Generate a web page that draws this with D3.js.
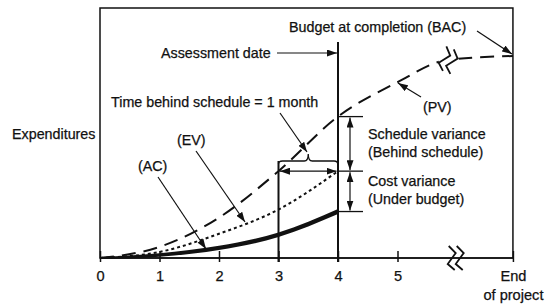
<!DOCTYPE html>
<html>
<head>
<meta charset="utf-8">
<script src="https://cdn.jsdelivr.net/npm/d3@7"></script>
<style>
  body { margin: 0; background: #fff; }
  text { font-family: "Liberation Sans", Arial, sans-serif; font-size: 14.3px; fill: #111; stroke: #111; stroke-width: 0.25px; }
</style>
</head>
<body>
<div id="chart"></div>
<script>
const width = 551
const height = 305

// time axis (months), "End of project" sits after the axis break
const tickValues = [0, 1, 2, 3, 4, 5, 6.94]
const tickLabels = ["0", "1", "2", "3", "4", "5", "End|of project"]

// planned value (PV) up to the budget at completion
const pvMonths = [0, 1, 2, 3, 4, 5, 5.83, 6.94]
const pvValues = [0, 5.5, 20, 43, 70, 87, 98, 100]

// earned value (EV) and actual cost (AC) up to the assessment date
const actMonths = [0, 1, 2, 3, 4]
const evValues = [0, 3, 12, 24, 43]
const acValues = [0, 1.5, 5, 11.5, 23]

const assessMonth = 4
const scheduleMonth = 3
const breakMonth = 5.97
const pvBreakMonth = 5.83

const svg = d3.select("#chart").append("svg")
    .attr("width", width)
    .attr("height", height)

const x = d3.scaleLinear().domain([0, 5]).range([100, 397.5])
const y = d3.scaleLinear().domain([0, 100]).range([258, 56])

const defs = svg.append("defs")
defs.append("marker")
    .attr("id", "arr")
    .attr("markerUnits", "userSpaceOnUse")
    .attr("markerWidth", 10).attr("markerHeight", 7)
    .attr("refX", 10).attr("refY", 3.5)
    .attr("orient", "auto-start-reverse")
  .append("path")
    .attr("d", "M0,0 L10,3.5 L0,7 Z")
    .attr("fill", "#111")

// frame
svg.append("rect")
    .attr("x", x(0)).attr("y", 8)
    .attr("width", x(6.94) - x(0)).attr("height", y(0) - 8)
    .attr("fill", "none").attr("stroke", "#111").attr("stroke-width", 1.5)

// axis
const xAxis = d3.axisBottom(x)
    .tickValues(tickValues)
    .tickSize(4)
    .tickPadding(9)
    .tickFormat((d, i) => tickLabels[i])
const gx = svg.append("g")
    .attr("transform", `translate(0,${y(0)})`)
    .call(xAxis)
gx.select(".domain").remove()
gx.selectAll(".tick line").attr("y1", -7).attr("y2", 4).attr("stroke", "#111").attr("stroke-width", 1.5)
gx.selectAll(".tick text")
    .style("font-family", '"Liberation Sans", Arial, sans-serif')
    .style("font-size", "14.6px")
    .attr("fill", "#111")
    .each(function(d, i) {
        const parts = tickLabels[i].split("|")
        if (parts.length > 1) {
            const t = d3.select(this).text(null)
            parts.forEach((p, j) => {
                t.append("tspan").attr("x", 0).attr("dy", j === 0 ? "0.71em" : "1.25em").text(p)
            })
        }
    })
svg.append("line")
    .attr("x1", x(0)).attr("x2", x(6.94))
    .attr("y1", y(0)).attr("y2", y(0))
    .attr("stroke", "#111").attr("stroke-width", 1.5)

// vertical lines at month 3 and the assessment date
svg.append("line")
    .attr("x1", x(assessMonth)).attr("x2", x(assessMonth))
    .attr("y1", 42).attr("y2", y(0) + 4)
    .attr("stroke", "#111").attr("stroke-width", 2)
const braceY = 161
svg.append("line")
    .attr("x1", x(scheduleMonth)).attr("x2", x(scheduleMonth))
    .attr("y1", braceY).attr("y2", y(0) + 4)
    .attr("stroke", "#111").attr("stroke-width", 2)

// curves
const pvLine = d3.line()
    .x((d, i) => x(pvMonths[i]))
    .y(d => y(d))
    .curve(d3.curveMonotoneX)
svg.append("path")
    .attr("d", pvLine(pvValues))
    .attr("fill", "none").attr("stroke", "#111")
    .attr("stroke-width", 2).attr("stroke-dasharray", "14,8")

const evLine = d3.line()
    .x((d, i) => x(actMonths[i]))
    .y(d => y(d))
    .curve(d3.curveMonotoneX)
svg.append("path")
    .attr("d", evLine(evValues))
    .attr("fill", "none").attr("stroke", "#111")
    .attr("stroke-width", 2).attr("stroke-dasharray", "3,3")

// AC gets thicker towards the assessment date
const acArea = d3.area()
    .x((d, i) => x(actMonths[i]))
    .y0((d, i) => y(d) + (0.9 + 1.6 * Math.sqrt(actMonths[i] / assessMonth)))
    .y1((d, i) => y(d) - (0.9 + 1.6 * Math.sqrt(actMonths[i] / assessMonth)))
    .curve(d3.curveMonotoneX)
svg.append("path")
    .attr("d", acArea(acValues))
    .attr("fill", "#111")

// break symbols
function breakMark(cx, cy, angle, withMask) {
    const g = svg.append("g").attr("transform", `translate(${cx},${cy}) rotate(${angle})`)
    if (withMask) {
        g.append("rect").attr("x", -8).attr("y", -5).attr("width", 18).attr("height", 10).attr("fill", "#fff")
    }
    ;[-3.5, 4.5].forEach(dx => {
        g.append("path")
            .attr("d", `M${dx - 3},-12 L${dx + 4},-5 L${dx - 4},6 L${dx + 3},12`)
            .attr("fill", "none").attr("stroke", "#111").attr("stroke-width", 1.8)
    })
    return g
}
breakMark(x(breakMonth), y(0), 0, false)
breakMark(x(pvBreakMonth) + 1, 60, 22, true)

// brace for time behind schedule
const x3 = x(scheduleMonth), x4 = x(assessMonth), mid = (x3 + x4) / 2
svg.append("path")
    .attr("d", `M${x3},${braceY + 3} Q${x3},${braceY} ${x3 + 4},${braceY} L${mid - 4},${braceY} Q${mid},${braceY} ${mid},${braceY - 7} Q${mid},${braceY} ${mid + 4},${braceY} L${x4 - 4},${braceY} Q${x4},${braceY} ${x4},${braceY + 4}`)
    .attr("fill", "none").attr("stroke", "#111").attr("stroke-width", 1.3)

// variance reference lines and arrows
const yPV4 = y(pvValues[4]), yEV4 = y(evValues[4]), yAC4 = y(acValues[4])
;[yPV4, yEV4, yAC4].forEach(v => {
    svg.append("line").attr("x1", x4).attr("x2", x4 + 25).attr("y1", v).attr("y2", v)
        .attr("stroke", "#111").attr("stroke-width", 1.3)
})
function arrow(x1, y1, x2, y2, both) {
    const l = svg.append("line")
        .attr("x1", x1).attr("y1", y1).attr("x2", x2).attr("y2", y2)
        .attr("stroke", "#111").attr("stroke-width", 1.2)
        .attr("marker-end", "url(#arr)")
    if (both) l.attr("marker-start", "url(#arr)")
}
arrow(x3 + 1.5, yEV4, x4 - 1.5, yEV4, true)
arrow(x4 + 12, yPV4 + 1, x4 + 12, yEV4 - 1, true)
arrow(x4 + 12, yEV4 + 1, x4 + 12, yAC4 - 1, true)

arrow(277, 53, x4 - 1, 53)
arrow(477, 31, x(6.94) - 1, 54)
arrow(280, 113, 307, 152)
arrow(421, 97, 398, 83)
arrow(196, 151, 245, 222)
arrow(158, 177, 206, 249)

// labels
const labels = [
    { t: "Budget at completion (BAC)", x: 289, y: 32 },
    { t: "Assessment date", x: 161, y: 58 },
    { t: "Time behind schedule = 1 month", x: 111, y: 107 },
    { t: "(PV)", x: 423, y: 112 },
    { t: "Expenditures", x: 12, y: 139 },
    { t: "Schedule variance", x: 368, y: 139 },
    { t: "(EV)", x: 177, y: 145 },
    { t: "(Behind schedule)", x: 368, y: 157 },
    { t: "(AC)", x: 138, y: 171 },
    { t: "Cost variance", x: 368, y: 186 },
    { t: "(Under budget)", x: 368, y: 204 }
]
svg.selectAll("text.lbl").data(labels).join("text")
    .attr("class", "lbl")
    .attr("x", d => d.x).attr("y", d => d.y)
    .text(d => d.t)
</script>
</body>
</html>
